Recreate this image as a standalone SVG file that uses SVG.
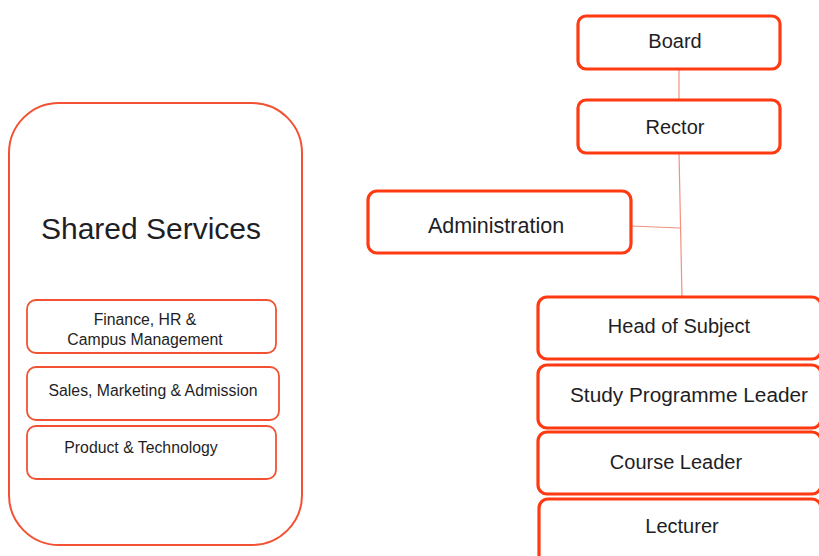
<svg xmlns="http://www.w3.org/2000/svg" width="819" height="556" viewBox="0 0 819 556">
<style>
.bx{fill:#fff;stroke:#ff3a12;stroke-width:3.2}
.sb{fill:#fff;stroke:#f25233;stroke-width:1.8}
.t{font-family:"Liberation Sans",Arial,sans-serif;fill:#1e1e24;text-anchor:middle}
.l{font-size:20px}
.s{font-size:15.8px}
.cn{stroke:#f39080;stroke-width:1.2;fill:none}
</style>
<g id="connectors">
<line class="cn" x1="679" y1="69" x2="679" y2="100"/>
<line class="cn" x1="679" y1="153" x2="682" y2="297"/>
<line class="cn" x1="631" y1="226" x2="680" y2="228"/>
</g>
<g id="shared-services">
<rect x="9" y="103" width="293" height="442" rx="50" fill="#fff" stroke="#f25233" stroke-width="2"/>
<text class="t" x="151" y="239" font-size="30">Shared Services</text>
</g>
<g id="finance">
<rect class="sb" x="27" y="300" width="249" height="53" rx="9"/>
<text class="t s" x="145" y="325">Finance, HR &amp;</text>
<text class="t s" x="145" y="345">Campus Management</text>
</g>
<g id="sales">
<rect class="sb" x="27" y="367" width="252" height="53" rx="9"/>
<text class="t s" x="153" y="396">Sales, Marketing &amp; Admission</text>
</g>
<g id="product">
<rect class="sb" x="27" y="426" width="249" height="53" rx="9"/>
<text class="t s" x="141" y="453">Product &amp; Technology</text>
</g>
<g id="board">
<rect class="bx" x="578" y="16" width="202" height="53" rx="8"/>
<text class="t l" x="675" y="48">Board</text>
</g>
<g id="rector">
<rect class="bx" x="578" y="100" width="202" height="53" rx="8"/>
<text class="t l" x="675" y="134">Rector</text>
</g>
<g id="administration">
<rect class="bx" x="368" y="191" width="263" height="62" rx="9"/>
<text class="t" x="496" y="233" style="font-size:21.5px">Administration</text>
</g>
<g id="head-of-subject">
<rect class="bx" x="538" y="297" width="283" height="62" rx="9"/>
<text class="t l" x="679" y="333">Head of Subject</text>
</g>
<g id="study-programme-leader">
<rect class="bx" x="538" y="365" width="283" height="63" rx="9"/>
<text class="t l" x="689" y="402" textLength="238" lengthAdjust="spacingAndGlyphs">Study Programme Leader</text>
</g>
<g id="course-leader">
<rect class="bx" x="538" y="432" width="283" height="62" rx="9"/>
<text class="t l" x="676" y="469">Course Leader</text>
</g>
<g id="lecturer">
<rect class="bx" x="539" y="499" width="282" height="70" rx="9"/>
<text class="t l" x="682" y="533">Lecturer</text>
</g>
</svg>
